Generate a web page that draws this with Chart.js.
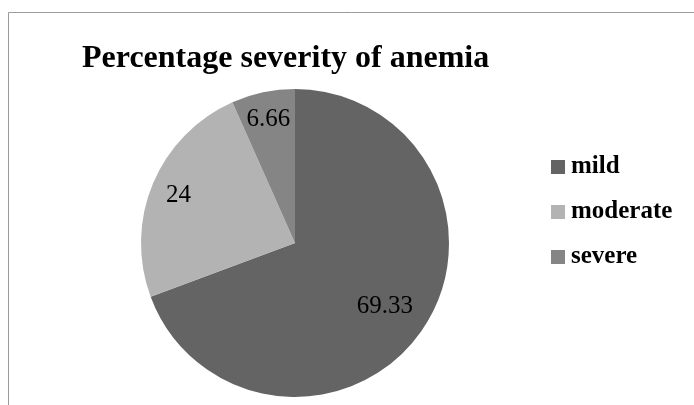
<!DOCTYPE html>
<html>
<head>
<meta charset="utf-8">
<script src="https://cdn.jsdelivr.net/npm/chart.js@4.4.1/dist/chart.umd.min.js"></script>
<style>
  html, body { margin: 0; padding: 0; background: #fff; }
  #wrap { width: 694px; height: 405px; position: relative; }
</style>
</head>
<body>
<div id="wrap"><canvas id="pieChart" width="694" height="405"></canvas></div>
<script>
// data
const chartTitle = "Percentage severity of anemia";
const categories = ["mild", "moderate", "severe"];
const percentValues = [69.33, 24, 6.66];
const valueLabels = ["69.33", "24", "6.66"];

// styling
const sliceColors = ["#646464", "#b3b3b3", "#858585"];
const labelRadius = [0.71, 0.82, 0.83]; // fraction of radius for each data label

// frame + title + legend drawn straight on the canvas
const decorPlugin = {
    id: "decor",
    afterDraw(chart) {
        const c = chart.ctx;
        c.save();
        // frame (top + left lines only are visible)
        c.strokeStyle = "#9b9b9b";
        c.lineWidth = 1;
        c.beginPath();
        c.moveTo(8.5, 405);
        c.lineTo(8.5, 12.5);
        c.lineTo(694, 12.5);
        c.stroke();

        // title
        c.fillStyle = "#000";
        c.font = "bold 32px 'Liberation Serif', 'Times New Roman', serif";
        c.textAlign = "left";
        c.textBaseline = "alphabetic";
        c.fillText(chartTitle, 82, 67);

        // legend
        c.font = "bold 25px 'Liberation Serif', 'Times New Roman', serif";
        c.textBaseline = "middle";
        categories.forEach((name, i) => {
            const top = 160 + i * 45;
            c.fillStyle = sliceColors[i];
            c.fillRect(551, top, 14, 14);
            c.fillStyle = "#000";
            c.fillText(name, 571, top + 7);
        });

        // data labels placed along each slice's middle angle
        const meta = chart.getDatasetMeta(0);
        c.font = "25px 'Liberation Serif', 'Times New Roman', serif";
        c.textAlign = "center";
        c.textBaseline = "middle";
        c.fillStyle = "#000";
        meta.data.forEach((arc, i) => {
            const p = arc.getProps(["x", "y", "startAngle", "endAngle", "outerRadius"], true);
            const mid = (p.startAngle + p.endAngle) / 2;
            const r = p.outerRadius * labelRadius[i];
            c.fillText(valueLabels[i], p.x + Math.cos(mid) * r, p.y + Math.sin(mid) * r + 1);
        });
        c.restore();
    }
};

const ctx = document.getElementById("pieChart");
const pieChart = new Chart(ctx, {
    type: "pie",
    data: {
        labels: categories,
        datasets: [{
            data: percentValues,
            backgroundColor: sliceColors,
            borderWidth: 0
        }]
    },
    options: {
        responsive: false,
        animation: false,
        layout: {
            padding: { left: 141, right: 245, top: 89, bottom: 8 }
        },
        plugins: {
            legend: { display: false },
            title: { display: false },
            tooltip: { enabled: false }
        }
    },
    plugins: [decorPlugin]
});
</script>
</body>
</html>
